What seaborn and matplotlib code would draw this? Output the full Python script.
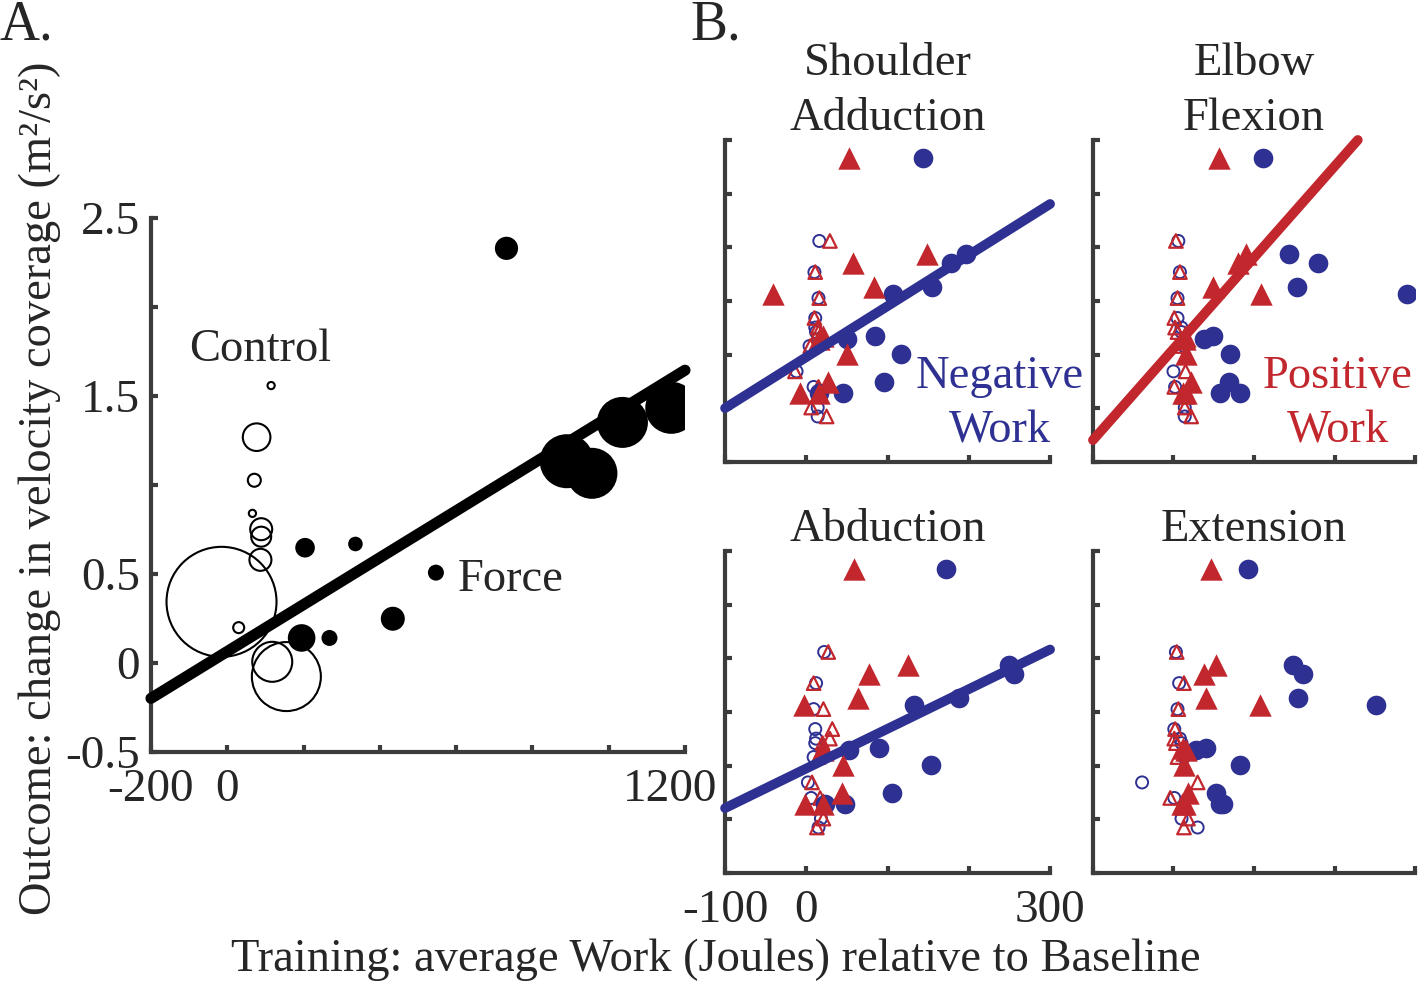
import matplotlib as mpl
import matplotlib.pyplot as plt
import numpy as np
import seaborn as sns
from matplotlib.transforms import ScaledTranslation

# Outcome per subject (same subjects in every panel).
outcome_force = [2.33, 1.434, 1.352, 1.134, 1.066, 0.669, 0.648, 0.508, 0.249, 0.141, 0.141]
outcome_control = [1.559, 1.269, 1.027, 0.841, 0.752, 0.71, 0.58, 0.344, 0.199, 0.007, -0.076]

# Panel A: average work and bubble radius (px).
work_force = [732, 1164, 1036, 890, 956, 336, 204, 547, 434, 195, 268]
work_control = [115, 77, 71, 66, 89, 89, 87, -15, 30, 118, 155]
bubble_force = [11.6, 26, 25.5, 27, 25.5, 7.3, 9.8, 8, 12, 13.8, 8]
bubble_control = [3.6, 13.8, 6.5, 3.6, 11, 10, 11, 55, 5.5, 20, 34.5]
fit_a = (0.065, 0.001317)  # intercept, slope

# Panel B: negative (circles) and positive (triangles) work per joint.
titles = ["Shoulder\nAdduction", "Elbow\nFlexion", "Abduction", "Extension"]

sadd_neg_force = [143, 197, 178, 155, 107, 85, 50, 117, 96, 45, 15]
sadd_pos_force = [52, 148, 58, 83, -41, 21, 15, 50, 27, -8, 15]
sadd_neg_control = [16, 10, 15, 11, 11, 12, 4, -12, 9, 14, 14]
sadd_pos_control = [29, 11, 16, 10, 14, 15, 5, -14, 15, 6, 25]

eflx_neg_force = [111, 143, 179, 153, 290, 49, 38, 70, 69, 58, 83]
eflx_pos_force = [56, 90, 80, 49, 109, 14, 14, 15, 22, 12, 15]
eflx_neg_control = [6, 8, 5, 5, 10, 10, 13, 0, 2, 14, 14]
eflx_pos_control = [3, 8, 5, 1, 2, 5, 8, 15, 1, 14, 22]

sabd_neg_force = [172, 249, 255, 188, 133, 90, 52, 153, 105, 48, 23]
sabd_pos_force = [59, 125, 77, 64, -3, 21, 21, 45, 44, -2, 20]
sabd_neg_control = [22, 12, 9, 11, 12, 11, 9, 2, 6, 18, 15]
sabd_pos_control = [27, 9, 21, 32, 29, 20, 15, 7, 17, 21, 13]

eext_neg_force = [92, 148, 161, 155, 251, 40, 28, 82, 53, 58, 62]
eext_pos_force = [46, 53, 38, 40, 107, 12, 15, 13, 18, 11, 14]
eext_neg_control = [3, 7, 5, 1, 8, 10, 13, -39, 1, 10, 30]
eext_pos_control = [4, 13, 6, 2, 1, 3, 5, 30, -4, 18, 13]

# Fit lines in B: (intercept, slope, which work) or None.
fits_b = [(0.477, 0.004755, "neg"), (0.554, 0.0085, "pos"),
          (0.474, 0.003695, "neg"), None]

BLUE = "#2E3192"
RED = "#C1272D"
SPINE = "#3c3c3c"
FS = 33.5

sns.set_style("ticks")
plt.rcParams["font.family"] = ["Liberation Serif", "DejaVu Serif"]
plt.rcParams["axes.unicode_minus"] = False

fig = plt.figure(figsize=(14.2, 9.85), dpi=100)


def style_axes(ax, xlim, ylim, xticks, xlabels, yticks, ylabels):
    sns.despine(ax=ax)
    ax.set_xlim(*xlim)
    ax.set_ylim(*ylim)
    ax.set_xticks(xticks)
    ax.set_xticklabels(xlabels)
    ax.set_yticks(yticks)
    ax.set_yticklabels(ylabels)
    ax.set_xlabel("")
    ax.set_ylabel("")
    for side in ["left", "bottom"]:
        ax.spines[side].set_linewidth(3)
        ax.spines[side].set_color(SPINE)
    ax.tick_params(direction="in", length=5, width=3, color=SPINE,
                   labelsize=34, pad=8)
    ax.tick_params(axis="x", pad=12)
    ax.patch.set_alpha(0)


# ---- Panel A ----
ax_a = fig.add_axes([0.1063, 0.2365, 0.3761, 0.5421])
sns.scatterplot(x=work_control, y=outcome_control, ax=ax_a, marker="o",
                s=[(1.44 * r) ** 2 for r in bubble_control],
                facecolor="none", edgecolor="black", linewidth=1.5,
                legend=False, zorder=3)
sns.scatterplot(x=work_force, y=outcome_force, ax=ax_a, marker="o",
                s=[(1.44 * r) ** 2 for r in bubble_force],
                color="black", edgecolor="black", linewidth=0,
                legend=False, zorder=3)
xa = np.array([-200, 1200])
ax_a.plot(xa, fit_a[0] + fit_a[1] * xa, color="black", lw=8,
          solid_capstyle="round", clip_on=False, zorder=4)
style_axes(ax_a, (-200, 1200), (-0.5, 2.5),
           np.arange(-200, 1201, 200), ["-200", "0", "", "", "", "", "", "1200"],
           np.arange(-0.5, 2.51, 0.5), ["-0.5", "0", "0.5", "", "1.5", "", "2.5"])
last = ax_a.get_xticklabels()[-1]
last.set_transform(last.get_transform()
                   + ScaledTranslation(-0.15, 0, fig.dpi_scale_trans))
ax_a.text(86, 1.758, "Control", ha="center", va="center", fontsize=FS)
ax_a.text(744, 0.466, "Force", ha="center", va="center", fontsize=FS)

# ---- Panel B ----
positions = [[0.5106, 0.5310, 0.2289, 0.3269], [0.7697, 0.5310, 0.2268, 0.3269],
             [0.5106, 0.1137, 0.2289, 0.3269], [0.7697, 0.1137, 0.2268, 0.3269]]
panels = [
    (sadd_neg_force, sadd_pos_force, sadd_neg_control, sadd_pos_control),
    (eflx_neg_force, eflx_pos_force, eflx_neg_control, eflx_pos_control),
    (sabd_neg_force, sabd_pos_force, sabd_neg_control, sabd_pos_control),
    (eext_neg_force, eext_pos_force, eext_neg_control, eext_pos_control),
]

for i, (pos, data, title, fit) in enumerate(zip(positions, panels, titles, fits_b)):
    neg_f, pos_f, neg_c, pos_c = data
    ax = fig.add_axes(pos)
    sns.scatterplot(x=neg_c, y=outcome_control, ax=ax, marker="o", s=75,
                    facecolor="none", edgecolor=BLUE, linewidth=1.4,
                    legend=False, zorder=3)
    sns.scatterplot(x=pos_c, y=outcome_control, ax=ax, marker="^", s=95,
                    facecolor="none", edgecolor=RED, linewidth=1.6,
                    legend=False, zorder=3)
    sns.scatterplot(x=neg_f, y=outcome_force, ax=ax, marker="o", s=200,
                    color=BLUE, edgecolor=BLUE, linewidth=0,
                    legend=False, zorder=4)
    sns.scatterplot(x=pos_f, y=outcome_force, ax=ax, marker="^", s=260,
                    color=RED, edgecolor=RED, linewidth=0,
                    legend=False, zorder=4)
    if fit is not None:
        b, m, kind = fit
        x_end = min(300, (2.5 - b) / m)
        xb = np.array([-100, x_end])
        ax.plot(xb, b + m * xb, color=BLUE if kind == "neg" else RED, lw=7,
                solid_capstyle="round", clip_on=False, zorder=5)
    xlabels = ["-100", "0", "", "", "300"] if i == 2 else [""] * 5
    style_axes(ax, (-100, 300), (-0.5, 2.5), np.arange(-100, 301, 100), xlabels,
               np.arange(-0.5, 2.51, 0.5), [""] * 7)
    ax.set_title(title, fontsize=FS, pad=7 if i < 2 else 3, linespacing=1.38)

fig.axes[1].text(0.846, 0.18, "Negative\nWork", transform=fig.axes[1].transAxes,
                 ha="center", va="center", color=BLUE, fontsize=FS,
                 linespacing=1.38, zorder=6)
fig.axes[2].text(0.761, 0.18, "Positive\nWork", transform=fig.axes[2].transAxes,
                 ha="center", va="center", color=RED, fontsize=FS,
                 linespacing=1.38, zorder=6)

# Labels and panel letters.
fig.text(0.028, 0.504, "Outcome: change in velocity coverage (m\u00b2/s\u00b2)",
         rotation=90, ha="center", va="center", fontsize=FS)
fig.text(0.504, 0.0254, "Training: average Work (Joules) relative to Baseline",
         ha="center", va="center", fontsize=FS)
fig.text(0.0, 1.0, "A.", ha="left", va="top", fontsize=40)
fig.text(0.486, 1.0, "B.", ha="left", va="top", fontsize=40)

fig.savefig("out.png", dpi=100)
